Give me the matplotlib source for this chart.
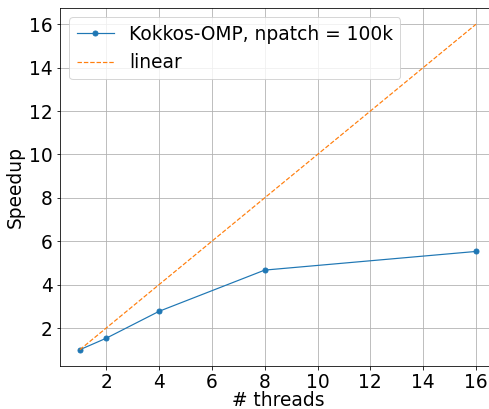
import matplotlib
matplotlib.use("Agg")
import matplotlib.pyplot as plt

threads = [1, 2, 4, 8, 16]
speedup = [1.0, 1.53, 2.77, 4.67, 5.53]
linear = [1, 2, 4, 8, 16]

fs = 18.6
fig = plt.figure(figsize=(489 / 72, 409 / 72), dpi=72)
ax = fig.add_axes([60 / 489, 43 / 409, 435.8 / 489, 358 / 409])
ax.plot(threads, speedup, '-o', color='#1f77b4', lw=1.2, ms=5, label='Kokkos-OMP, npatch = 100k')
ax.plot(threads, linear, '--', color='#ff7f0e', lw=1.2, label='linear')
ax.set_xticks([2, 4, 6, 8, 10, 12, 14, 16])
ax.set_yticks([2, 4, 6, 8, 10, 12, 14, 16])
ax.tick_params(labelsize=fs)
ax.set_xlabel('# threads', fontsize=fs, labelpad=-0.5)
ax.set_ylabel('Speedup', fontsize=fs)
ax.grid(True)
ax.legend(fontsize=fs, loc='upper left')
fig.savefig('out.png', dpi=72)
